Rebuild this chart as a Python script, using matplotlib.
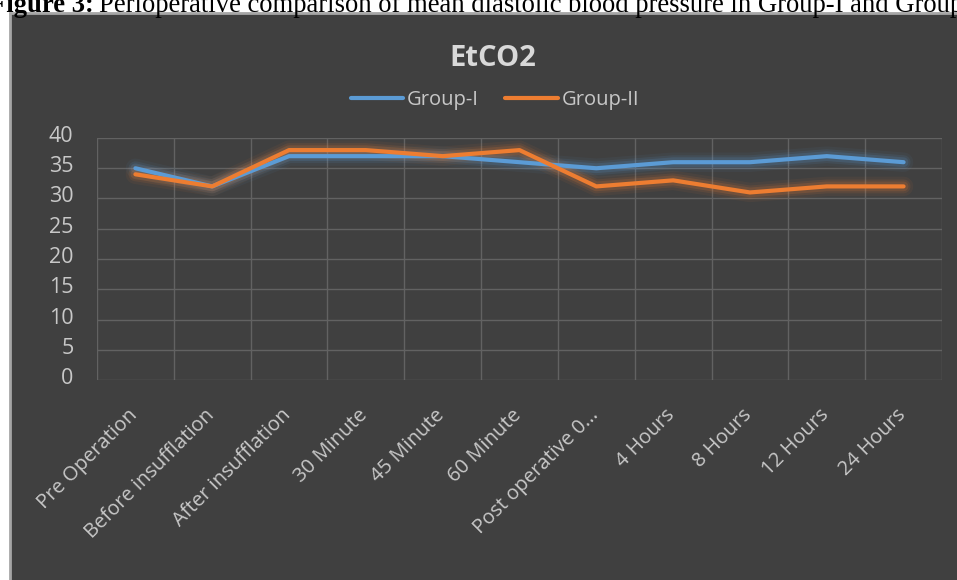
import matplotlib.pyplot as plt
from matplotlib.patches import Rectangle
from matplotlib.transforms import ScaledTranslation

plt.rcParams['font.family'] = ['Open Sans', 'DejaVu Sans']

# data
cats = ['Pre Operation', 'Before insufflation', 'After insufflation', '30 Minute',
        '45 Minute', '60 Minute', 'Post operative 0...', '4 Hours', '8 Hours',
        '12 Hours', '24 Hours']
group1 = [35, 32, 37, 37, 37, 36, 35, 36, 36, 37, 36]
group2 = [34, 32, 38, 38, 37, 38, 32, 33, 31, 32, 32]
yticks = [0, 5, 10, 15, 20, 25, 30, 35, 40]

blue = '#5b9bd5'
orange = '#ed7d31'
bg = '#404040'
txt = '#c8c8c8'

W, H = 957, 580
fig = plt.figure(figsize=(9.57, 5.8), dpi=100)
fig.patch.set_facecolor('white')

# dark chart box (cropped on the right)
box = Rectangle((10 / W, -0.01), 1.2, (H - 13) / H + 0.01, transform=fig.transFigure,
                facecolor=bg, edgecolor='#a6a6a6', linewidth=2, zorder=0)
fig.patches.append(box)

# caption above, cut off at the edges like in the source image
r = fig.canvas.get_renderer()
t1 = fig.text(-10 / W, 1 - 12 / H, 'Figure 3:', fontfamily='Liberation Serif',
              fontweight='bold', fontsize=19.2, va='baseline', ha='left', color='black')
bb = t1.get_window_extent(renderer=r)
fig.text(bb.x1 / W + 5 / W, 1 - 12 / H,
         'Perioperative comparison of mean diastolic blood pressure in Group-I and Group-II',
         fontfamily='Liberation Serif', fontsize=19.2, va='baseline', ha='left', color='black')

ax = fig.add_axes([97 / W, (H - 380) / H, (942 - 97) / W, (380 - 138) / H])
ax.set_zorder(2)
ax.patch.set_alpha(0)
x = list(range(len(cats)))

for y, c in [(group1, blue), (group2, orange)]:
    for lw, a in [(14, 0.06), (10, 0.10), (7, 0.16)]:
        ax.plot(x, y, color=c, linewidth=lw, alpha=a, solid_capstyle='round', zorder=2)
l1, = ax.plot(x, group1, color=blue, linewidth=3, solid_capstyle='round', zorder=3)
l2, = ax.plot(x, group2, color=orange, linewidth=3, solid_capstyle='round', zorder=4)

ax.set_xlim(-0.5, len(cats) - 0.5)
ax.set_ylim(0, 40)
ax.set_yticks(yticks)
ax.set_xticks(x)
ax.set_xticks([i - 0.5 for i in range(len(cats) + 1)], minor=True)
ax.set_xticklabels(cats, rotation=45, ha='right', va='top', rotation_mode='anchor',
                   fontsize=14.5, color=txt)
ax.tick_params(axis='x', which='both', length=0, pad=18)
ax.tick_params(axis='y', length=0, pad=17, labelsize=15.5, labelcolor=txt)
for lab in ax.get_yticklabels():
    lab.set_transform(lab.get_transform() + ScaledTranslation(0, 4 / 100, fig.dpi_scale_trans))
for lab in ax.get_xticklabels():
    lab.set_transform(lab.get_transform() + ScaledTranslation(-8 / 100, 0, fig.dpi_scale_trans))
ax.grid(axis='y', which='major', color='#626262', linewidth=1)
ax.grid(axis='x', which='minor', color='#626262', linewidth=1)
for s in ax.spines.values():
    s.set_visible(False)

fig.text(493 / W, 1 - 58 / H, 'EtCO2', ha='center', va='center', fontsize=21,
         fontweight='bold', color='#d9d9d9', zorder=3)

leg = fig.legend([l1, l2], ['Group-I', 'Group-II'], loc='center', ncol=2,
                 bbox_to_anchor=(495 / W, 1 - 100 / H), frameon=False, fontsize=14.5,
                 handlelength=2.6, handletextpad=0.2, columnspacing=1.3)
leg.set_zorder(3)
for t in leg.get_texts():
    t.set_color(txt)

fig.savefig('out.png', dpi=100)
